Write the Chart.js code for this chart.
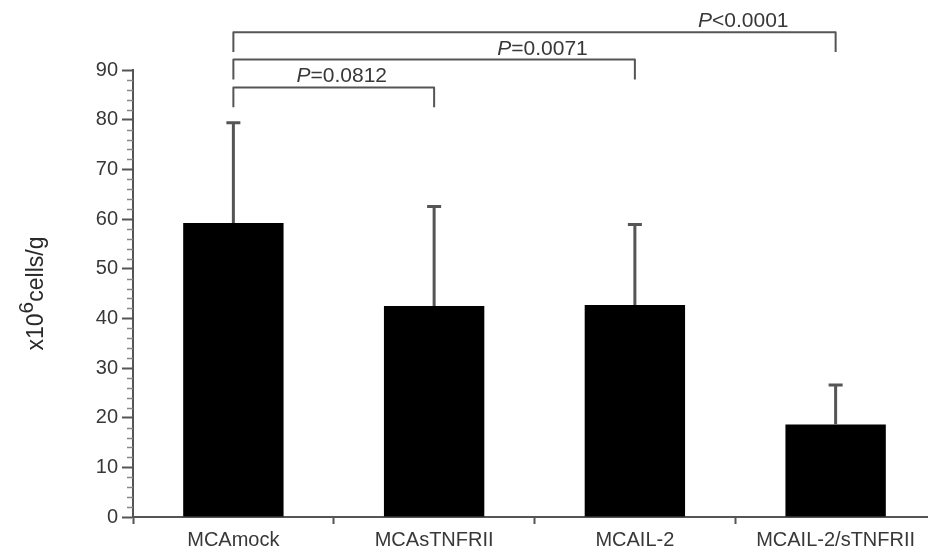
<!DOCTYPE html>
<html>
<head>
<meta charset="utf-8">
<script src="https://cdn.jsdelivr.net/npm/chart.js@4.4.1/dist/chart.umd.min.js"></script>
<style>
  html, body { margin: 0; padding: 0; background: #fff; overflow: hidden; }
  #wrap { width: 928px; height: 551px; overflow: hidden; }
</style>
</head>
<body>
<div id="wrap"><canvas id="cellChart" width="945" height="551"></canvas></div>
<script>
// group names and measured values (x10^6 cells/g)
const groups = ['MCAmock', 'MCAsTNFRII', 'MCAIL-2', 'MCAIL-2/sTNFRII'];
const means = [59.2, 42.5, 42.7, 18.6];
const sdUpper = [20.2, 20.0, 16.2, 8.0];
const yTicks = [0, 10, 20, 30, 40, 50, 60, 70, 80, 90];

// significance brackets: compared against MCAmock
const pairTo = [1, 2, 3];
const pSign = ['=', '=', '<'];
const pValues = ['0.0812', '0.0071', '0.0001'];
const bracketLevel = [86.5, 92.1, 97.6];

const FONT = '"Liberation Sans", Arial, sans-serif';
const GREY = '#555';
const TEXT = '#383838';

// upper-only error bars with caps
const errorBars = {
  id: 'errorBars',
  afterDatasetsDraw(chart) {
    const ctx = chart.ctx;
    const y = chart.scales.y;
    const meta = chart.getDatasetMeta(0);
    ctx.save();
    ctx.strokeStyle = GREY;
    ctx.lineWidth = 3;
    meta.data.forEach((bar, i) => {
      const top = y.getPixelForValue(means[i] + sdUpper[i]);
      ctx.beginPath();
      ctx.moveTo(bar.x, bar.y);
      ctx.lineTo(bar.x, top);
      ctx.moveTo(bar.x - 7, top);
      ctx.lineTo(bar.x + 7, top);
      ctx.stroke();
    });
    ctx.restore();
  }
};

// minor ticks every 2 units on the y axis
const minorTicks = {
  id: 'minorTicks',
  afterDraw(chart) {
    const ctx = chart.ctx;
    const y = chart.scales.y;
    const left = chart.chartArea.left;
    ctx.save();
    ctx.strokeStyle = '#888';
    ctx.lineWidth = 1.5;
    for (let v = 2; v < 90; v += 2) {
      if (v % 10 === 0) continue;
      const py = Math.round(y.getPixelForValue(v)) + 0.5;
      ctx.beginPath();
      ctx.moveTo(left - 6, py);
      ctx.lineTo(left, py);
      ctx.stroke();
    }
    ctx.restore();
  }
};

// brackets + P labels above the bars
const brackets = {
  id: 'brackets',
  afterDraw(chart) {
    const ctx = chart.ctx;
    const x = chart.scales.x;
    const y = chart.scales.y;
    ctx.save();
    ctx.strokeStyle = GREY;
    ctx.lineWidth = 2;
    ctx.lineJoin = 'round';
    pairTo.forEach((j, k) => {
      const x1 = x.getPixelForValue(0);
      const x2 = x.getPixelForValue(j);
      const yTop = y.getPixelForValue(bracketLevel[k]);
      const yBot = y.getPixelForValue(bracketLevel[k] - 4);
      ctx.beginPath();
      ctx.moveTo(x1, yBot);
      ctx.lineTo(x1, yTop);
      ctx.lineTo(x2, yTop);
      ctx.lineTo(x2, yBot);
      ctx.stroke();

      // label centred over the last segment
      const cx = (x.getPixelForValue(j - 1) + x2) / 2 + 8;
      const rest = pSign[k] + pValues[k];
      ctx.font = 'italic 21px ' + FONT;
      const wP = ctx.measureText('P').width;
      ctx.font = '21px ' + FONT;
      const wR = ctx.measureText(rest).width;
      const sx = cx - (wP + wR) / 2;
      ctx.fillStyle = TEXT;
      ctx.textBaseline = 'alphabetic';
      ctx.textAlign = 'left';
      ctx.font = 'italic 21px ' + FONT;
      ctx.fillText('P', sx, yTop - 5);
      ctx.font = '21px ' + FONT;
      ctx.fillText(rest, sx + wP, yTop - 5);
    });
    ctx.restore();
  }
};

// rotated y title with superscript
const yTitle = {
  id: 'yTitle',
  afterDraw(chart) {
    const ctx = chart.ctx;
    const area = chart.chartArea;
    const midY = (area.top + area.bottom) / 2;
    ctx.save();
    ctx.fillStyle = '#2a2a2a';
    ctx.textBaseline = 'alphabetic';
    ctx.textAlign = 'left';
    const big = '23px ' + FONT;
    const sup = '21px ' + FONT;
    ctx.font = big;
    const w1 = ctx.measureText('x10').width;
    const w3 = ctx.measureText('cells/g').width;
    ctx.font = sup;
    const w2 = ctx.measureText('6').width;
    const total = w1 + w2 + w3;
    ctx.translate(43, midY + total / 2);
    ctx.rotate(-Math.PI / 2);
    ctx.font = big;
    ctx.fillText('x10', 0, 0);
    ctx.font = sup;
    ctx.fillText('6', w1, -10);
    ctx.font = big;
    ctx.fillText('cells/g', w1 + w2, 0);
    ctx.restore();
  }
};

new Chart(document.getElementById('cellChart').getContext('2d'), {
  type: 'bar',
  data: {
    labels: groups,
    datasets: [{
      data: means,
      backgroundColor: '#000',
      borderWidth: 0,
      barPercentage: 0.5,
      categoryPercentage: 1.0
    }]
  },
  options: {
    responsive: false,
    animation: false,
    layout: { padding: { top: 70, right: 9, bottom: 0, left: 0 } },
    plugins: {
      legend: { display: false },
      tooltip: { enabled: false }
    },
    scales: {
      x: {
        afterFit(s) { s.height = 34; },
        grid: {
          offset: true,
          drawOnChartArea: false,
          tickLength: 7,
          tickColor: GREY,
          tickWidth: 2
        },
        border: { color: GREY, width: 2 },
        ticks: {
          color: TEXT,
          padding: 4,
          font: { family: FONT, size: 20 }
        }
      },
      y: {
        min: 0,
        max: 90,
        afterFit(s) { s.width = 133; },
        afterBuildTicks(s) { s.ticks = yTicks.map(v => ({ value: v })); },
        grid: {
          drawOnChartArea: false,
          tickLength: 11,
          tickColor: GREY,
          tickWidth: 2
        },
        border: { color: GREY, width: 2 },
        ticks: {
          color: TEXT,
          padding: 4,
          font: { family: FONT, size: 20 }
        }
      }
    }
  },
  plugins: [errorBars, minorTicks, brackets, yTitle]
});
</script>
</body>
</html>
